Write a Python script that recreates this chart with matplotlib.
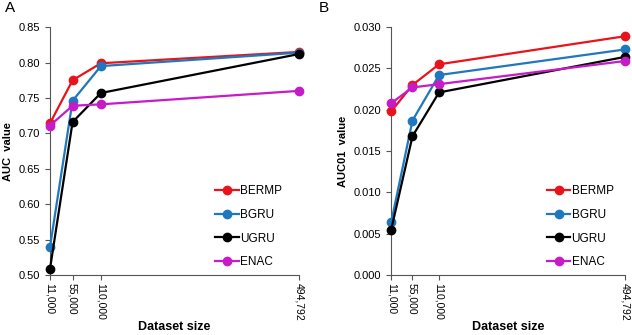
import matplotlib
import matplotlib.pyplot as plt
from matplotlib.ticker import FuncFormatter

matplotlib.use("Agg")

sizes = [11000, 55000, 110000, 494792]
size_labels = ["11,000", "55,000", "110,000", "494,792"]
methods = ["BERMP", "BGRU", "UGRU", "ENAC"]
colors = ["#E8141B", "#1F78BE", "#000000", "#C61BC6"]

auc_bermp = [0.714, 0.775, 0.799, 0.815]
auc_bgru = [0.539, 0.746, 0.795, 0.814]
auc_ugru = [0.508, 0.716, 0.757, 0.812]
auc_enac = [0.711, 0.739, 0.741, 0.760]

auc01_bermp = [0.0198, 0.0230, 0.0255, 0.0289]
auc01_bgru = [0.0064, 0.0187, 0.0242, 0.0273]
auc01_ugru = [0.0055, 0.0168, 0.0221, 0.0264]
auc01_enac = [0.0208, 0.0227, 0.0231, 0.0259]


def panel(fig, ax, series, ylim, yticks, fmt, ylabel, letter, letter_x):
    for vals, name, c in zip(series, methods, colors):
        ax.plot(sizes, vals, "-o", color=c, lw=1.6, ms=6, label=name,
                clip_on=False, zorder=3)
    ax.set_xlim(sizes[0], sizes[-1])
    ax.set_ylim(*ylim)
    ax.set_yticks(yticks)
    ax.yaxis.set_major_formatter(FuncFormatter(lambda v, p: fmt.format(v)))
    ax.set_xticks(sizes)
    ax.set_xticklabels(size_labels, rotation=-90)
    ax.spines["top"].set_visible(False)
    ax.spines["right"].set_visible(False)
    ax.spines["left"].set_color("#555555")
    ax.spines["bottom"].set_color("#555555")
    ax.tick_params(direction="out", length=3.5, color="#555555", labelsize=8)
    ax.tick_params(axis="x", labelsize=7.5, pad=2)
    ax.set_ylabel(ylabel, fontsize=8, fontweight="bold")
    ax.set_xlabel("Dataset size", fontsize=9, fontweight="bold", va="top")
    ax.xaxis.set_label_coords(0.5, -0.185)
    ax.legend(loc="center left", bbox_to_anchor=(0.62, 0.195), frameon=False,
              fontsize=8.5, handlelength=2.0, handletextpad=0.1,
              labelspacing=1.0)
    fig.text(letter_x, 0.955, letter, fontsize=11, va="bottom", ha="left")


def main():
    plt.rcParams["font.family"] = ["Liberation Sans", "DejaVu Sans"]
    fig = plt.figure(figsize=(6.32, 3.35), dpi=100)
    ax1 = fig.add_axes([0.079, 0.179, 0.394, 0.74])
    ax2 = fig.add_axes([0.619, 0.179, 0.370, 0.74])

    panel(fig, ax1, [auc_bermp, auc_bgru, auc_ugru, auc_enac], (0.5, 0.85),
          [0.50, 0.55, 0.60, 0.65, 0.70, 0.75, 0.80, 0.85], "{:.2f}",
          "AUC  value", "A", 0.008)
    panel(fig, ax2, [auc01_bermp, auc01_bgru, auc01_ugru, auc01_enac],
          (0.0, 0.030), [0.0, 0.005, 0.010, 0.015, 0.020, 0.025, 0.030],
          "{:.3f}", "AUC01  value", "B", 0.504)

    fig.savefig("out.png", dpi=100)
    return 0


if __name__ == "__main__":
    main()
